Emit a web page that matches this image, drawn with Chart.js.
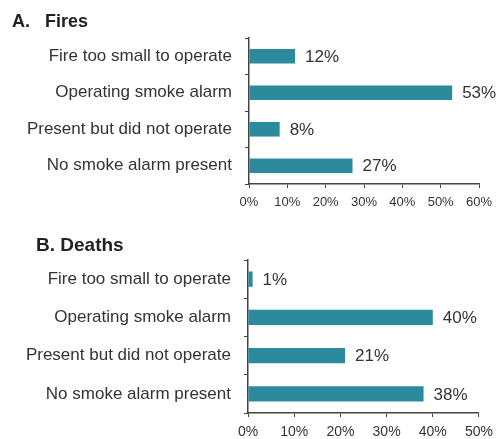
<!DOCTYPE html>
<html>
<head>
<meta charset="utf-8">
<script src="https://cdn.jsdelivr.net/npm/chart.js@4"></script>
<style>
  body { margin: 0; background: #fff; }
  #wrapA { position: absolute; left: 0; top: 0; width: 500px; height: 215px; }
  #wrapB { position: absolute; left: 0; top: 210px; width: 500px; height: 229px; }
</style>
</head>
<body>
<div id="wrapA"><canvas id="chartA" width="500" height="215"></canvas></div>
<div id="wrapB"><canvas id="chartB" width="500" height="229"></canvas></div>
<script>
const categories = ['Fire too small to operate', 'Operating smoke alarm', 'Present but did not operate', 'No smoke alarm present'];
const firesValues = [12, 53, 8, 27];
const deathsValues = [1, 40, 21, 38];
const firesTicks = [0, 10, 20, 30, 40, 50, 60];
const deathsTicks = [0, 10, 20, 30, 40, 50];

const barColor = '#2b8a9b';
const textColor = '#333';
const axisColor = '#444';
const fontFamily = '"Liberation Sans", Arial, sans-serif';

// writes "12%" etc. just past the end of each bar
const valueLabels = {
  id: 'valueLabels',
  afterDatasetsDraw(chart) {
    const ctx = chart.ctx;
    const meta = chart.getDatasetMeta(0);
    ctx.save();
    ctx.font = '17px ' + fontFamily;
    ctx.fillStyle = textColor;
    ctx.textAlign = 'left';
    ctx.textBaseline = 'middle';
    meta.data.forEach((bar, i) => {
      const v = chart.data.datasets[0].data[i];
      ctx.fillText(v + '%', bar.x + 10, bar.y + 1);
    });
    ctx.restore();
  }
};

// panel heading ("A. Fires"), placed left of the label column
const panelTitle = {
  id: 'panelTitle',
  afterDraw(chart, args, o) {
    const ctx = chart.ctx;
    ctx.save();
    ctx.font = 'bold ' + o.size + 'px ' + fontFamily;
    ctx.fillStyle = '#222';
    ctx.textAlign = 'left';
    ctx.textBaseline = 'middle';
    ctx.fillText(o.text, o.x, o.y);
    ctx.restore();
  }
};

function makeChart(id, title, values, ticks, opts) {
  const maxVal = ticks[ticks.length - 1];
  return new Chart(document.getElementById(id), {
    type: 'bar',
    data: {
      labels: categories,
      datasets: [{
        data: values,
        backgroundColor: barColor,
        borderWidth: 0,
        categoryPercentage: 1,
        barPercentage: 0.4
      }]
    },
    options: {
      indexAxis: 'y',
      responsive: false,
      animation: false,
      layout: { padding: { left: 0, right: 21, top: opts.top, bottom: opts.bottom } },
      plugins: {
        legend: { display: false },
        tooltip: { enabled: false },
        panelTitle: { text: title, x: opts.titleX, y: opts.titleY, size: opts.titleSize }
      },
      scales: {
        x: {
          min: 0,
          max: maxVal,
          afterBuildTicks: (scale) => { scale.ticks = ticks.map(v => ({ value: v })); },
          afterFit: (scale) => { scale.height = 26; },
          ticks: {
            color: textColor,
            padding: 7,
            font: { family: fontFamily, size: opts.tickSize },
            callback: (v) => v + '%'
          },
          grid: { drawOnChartArea: false, tickLength: 4, color: axisColor },
          border: { display: true, color: axisColor, width: 1.5 }
        },
        y: {
          afterFit: (scale) => { scale.width = opts.axisX; },
          ticks: {
            color: textColor,
            padding: 13,
            font: { family: fontFamily, size: 17 }
          },
          grid: { drawOnChartArea: false, tickLength: 4, color: axisColor, offset: true },
          border: { display: true, color: axisColor, width: 1.5 }
        }
      }
    },
    plugins: [valueLabels, panelTitle]
  });
}

makeChart('chartA', 'A.   Fires', firesValues, firesTicks,
  { axisX: 249, top: 38, bottom: 5, titleX: 12, titleY: 22, titleSize: 18, tickSize: 13 });
makeChart('chartB', 'B. Deaths', deathsValues, deathsTicks,
  { axisX: 248, top: 50, bottom: 0, titleX: 36, titleY: 36, titleSize: 19, tickSize: 14 });
</script>
</body>
</html>
